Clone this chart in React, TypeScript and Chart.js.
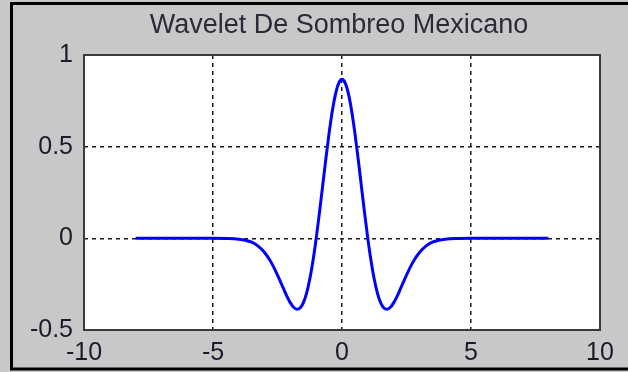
import React, { useEffect, useRef } from "react";
import { Chart, registerables } from "chart.js";

Chart.register(...registerables);

const titleText = "Wavelet De Sombreo Mexicano";
const xTicks = [-10, -5, 0, 5, 10];
const yTicks = [-0.5, 0, 0.5, 1];

const xValues = [
  -8, -7, -6, -5, -4.5, -4, -3.75, -3.5, -3.25, -3, -2.75, -2.5, -2.375, -2.25, -2.125, -2, -1.875,
  -1.75, -1.625, -1.5, -1.375, -1.25, -1.125, -1, -0.875, -0.75, -0.625, -0.5, -0.375, -0.25, -0.125,
  0, 0.125, 0.25, 0.375, 0.5, 0.625, 0.75, 0.875, 1, 1.125, 1.25, 1.375, 1.5, 1.625, 1.75, 1.875, 2,
  2.125, 2.25, 2.375, 2.5, 2.75, 3, 3.25, 3.5, 3.75, 4, 4.5, 5, 6, 7, 8,
];
const yValues = [
  0, 0, 0, 0, -0.0009, -0.0044, -0.01, -0.0213, -0.0422, -0.0771, -0.1298, -0.2001, -0.2398, -0.2803,
  -0.3189, -0.3521, -0.3762, -0.3869, -0.38, -0.352, -0.3001, -0.2234, -0.1224, 0, 0.1386, 0.2864,
  0.4347, 0.574, 0.6947, 0.7881, 0.8471, 0.8673, 0.8471, 0.7881, 0.6947, 0.574, 0.4347, 0.2864, 0.1386,
  0, -0.1224, -0.2234, -0.3001, -0.352, -0.38, -0.3869, -0.3762, -0.3521, -0.3189, -0.2803, -0.2398,
  -0.2001, -0.1298, -0.0771, -0.0422, -0.0213, -0.01, -0.0044, -0.0009, 0, 0, 0, 0,
];

const FONT = '"Liberation Sans", Arial, sans-serif';

const framePlugin = {
  id: "frame",
  beforeDraw(chart: any) {
    const { ctx, chartArea } = chart;
    ctx.save();
    ctx.fillStyle = "#c8c8c8";
    ctx.fillRect(0, 0, chart.width, chart.height);
    ctx.strokeStyle = "#000";
    ctx.lineWidth = 3;
    ctx.strokeRect(11.5, 3.5, 700, 365.5);
    ctx.fillStyle = "#ffffff";
    ctx.fillRect(chartArea.left, chartArea.top, chartArea.right - chartArea.left, chartArea.bottom - chartArea.top);
    ctx.restore();
  },
  afterDatasetsDraw(chart: any) {
    const { ctx, chartArea } = chart;
    ctx.save();
    ctx.strokeStyle = "#3a3a3a";
    ctx.lineWidth = 2;
    ctx.strokeRect(chartArea.left, chartArea.top, chartArea.right - chartArea.left, chartArea.bottom - chartArea.top);
    ctx.fillStyle = "#2a2a38";
    ctx.font = `27px ${FONT}`;
    ctx.textAlign = "center";
    ctx.textBaseline = "alphabetic";
    ctx.fillText(titleText, (chartArea.left + chartArea.right) / 2 - 3, 33);
    ctx.restore();
  },
};

export default function App() {
  const ref = useRef<HTMLCanvasElement>(null);
  useEffect(() => {
    if (!ref.current) return;
    const gridColor = (c: any) =>
      c.tick && (c.tick.value === c.scale.min || c.tick.value === c.scale.max) ? "rgba(0,0,0,0)" : "#1a1a1a";
    const chart = new Chart(ref.current, {
      type: "line",
      data: {
        datasets: [
          {
            data: xValues.map((x, i) => ({ x, y: yValues[i] })),
            borderColor: "#0000ff",
            borderWidth: 3,
            pointRadius: 0,
            cubicInterpolationMode: "monotone",
            fill: false,
          },
        ],
      },
      options: {
        animation: false,
        responsive: false,
        events: [],
        layout: { padding: { left: 0, right: 28, top: 55, bottom: 0 } },
        plugins: { legend: { display: false }, tooltip: { enabled: false }, title: { display: false } },
        scales: {
          x: {
            type: "linear",
            min: -10,
            max: 10,
            afterBuildTicks: (s: any) => {
              s.ticks = xTicks.map((v) => ({ value: v }));
            },
            afterFit: (s: any) => {
              s.height = 42;
            },
            ticks: {
              font: { size: 25, family: FONT },
              color: "#1a1a2a",
              padding: 8,
              maxRotation: 0,
              autoSkip: false,
              callback: (v: any) => String(v),
            },
            grid: { color: gridColor, lineWidth: 1.5, drawTicks: false },
            border: { display: false, dash: [4, 4] },
          },
          y: {
            type: "linear",
            min: -0.5,
            max: 1,
            afterBuildTicks: (s: any) => {
              s.ticks = yTicks.map((v) => ({ value: v }));
            },
            afterFit: (s: any) => {
              s.width = 84;
            },
            ticks: {
              font: { size: 25, family: FONT },
              color: "#1a1a2a",
              padding: 11,
              autoSkip: false,
              callback: (v: any) => String(v),
            },
            grid: { color: gridColor, lineWidth: 1.5, drawTicks: false },
            border: { display: false, dash: [4, 4] },
          },
        },
      },
      plugins: [framePlugin],
    });
    return () => chart.destroy();
  }, []);
  return (
    <div style={{ position: "fixed", left: 0, top: 0, width: 628, height: 372, background: "#c8c8c8" }}>
      <canvas ref={ref} width={628} height={372} style={{ display: "block", width: 628, height: 372 }} />
    </div>
  );
}
